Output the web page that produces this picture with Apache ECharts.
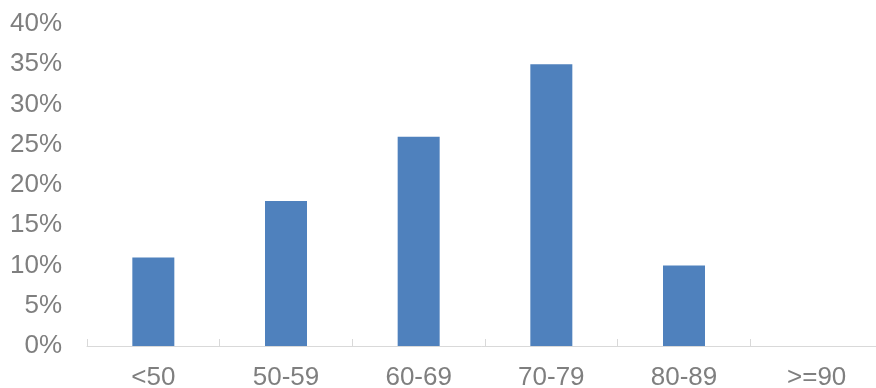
<!DOCTYPE html>
<html>
<head>
<meta charset="utf-8">
<script src="https://cdn.jsdelivr.net/npm/echarts@6/dist/echarts.min.js"></script>
<style>
html,body{margin:0;padding:0;background:#fff;}
#chart{width:876px;height:388px;}
</style>
</head>
<body>
<div id="chart"></div>
<script>
var categories = ['<50', '50-59', '60-69', '70-79', '80-89', '>=90'];
var shares = [11, 18, 26, 35, 10, 0];
var yMin = 0, yMax = 40, yStep = 5;

var chart = echarts.init(document.getElementById('chart'), null, {renderer: 'canvas'});
chart.setOption({
  animation: false,
  backgroundColor: '#ffffff',
  grid: {left: 87, right: -7, top: 24, bottom: 42, containLabel: false, outerBoundsMode: 'none'},
  xAxis: {
    type: 'category',
    data: categories,
    boundaryGap: true,
    axisLine: {show: true, lineStyle: {color: '#d9d9d9', width: 1}},
    axisTick: {show: true, inside: true, length: 7, lineStyle: {color: '#d9d9d9'}},
    axisLabel: {color: '#7f7f7f', fontFamily: 'Liberation Sans, Arial, sans-serif', fontSize: 26, margin: 19}
  },
  yAxis: {
    type: 'value',
    min: yMin, max: yMax, interval: yStep,
    axisLine: {show: false},
    axisTick: {show: false},
    splitLine: {show: false},
    axisLabel: {color: '#7f7f7f', fontFamily: 'Liberation Sans, Arial, sans-serif', fontSize: 26, margin: 25,
      formatter: function (v) { return v + '%'; }}
  },
  series: [{
    type: 'bar',
    data: shares,
    barWidth: 42,
    itemStyle: {color: '#4f81bd'}
  }]
});
</script>
</body>
</html>
